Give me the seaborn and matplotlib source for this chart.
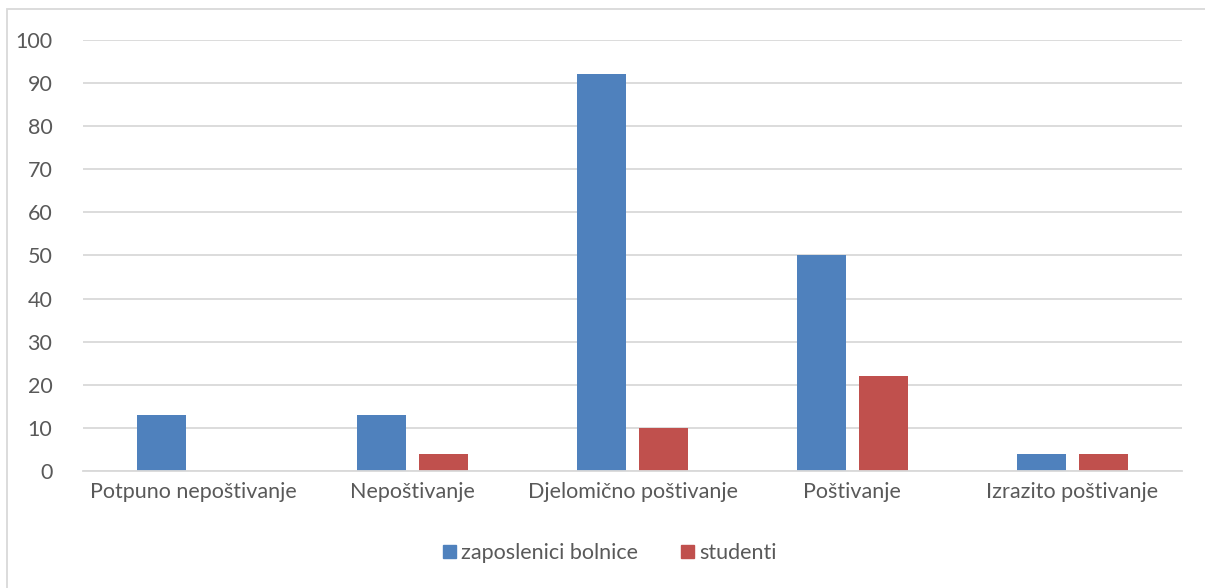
import matplotlib
matplotlib.use("Agg")
import matplotlib.pyplot as plt
import matplotlib.patches as mpatches
import pandas as pd
import seaborn as sns

# data
categories = ["Potpuno nepoštivanje", "Nepoštivanje", "Djelomično poštivanje",
              "Poštivanje", "Izrazito poštivanje"]
zaposlenici = [13, 13, 92, 50, 4]
studenti = [0, 4, 10, 22, 4]
series_names = ["zaposlenici bolnice", "studenti"]
colors = ["#4F81BD", "#C0504D"]

df = pd.DataFrame({
    "kategorija": categories * 2,
    "vrijednost": zaposlenici + studenti,
    "skupina": [series_names[0]] * len(categories) + [series_names[1]] * len(categories),
})

sns.set_theme(style="white")
plt.rcParams["font.family"] = ["Lato", "DejaVu Sans"]
text_color = "#595959"
grid_color = "#D9D9D9"

fig = plt.figure(figsize=(12.05, 5.88), dpi=100)
ax = fig.add_axes([83 / 1205, 1 - 471 / 588, (1182 - 83) / 1205, (471 - 40) / 588])

sns.barplot(data=df, x="kategorija", y="vrijednost", hue="skupina",
            palette=colors, width=0.564, gap=0.21, ax=ax, legend=False,
            saturation=1, linewidth=0, edgecolor="none")

ax.set_ylim(0, 100)
ax.set_xlim(-0.5, len(categories) - 0.5)
ax.set_yticks(range(0, 101, 10))
ax.grid(axis="y", color=grid_color, linewidth=1.3)
ax.set_axisbelow(True)
for side in ["top", "right", "left"]:
    ax.spines[side].set_visible(False)
ax.spines["bottom"].set_color(grid_color)
ax.spines["bottom"].set_linewidth(1.3)
ax.tick_params(axis="both", length=0, labelsize=15.5, colors=text_color)
ax.tick_params(axis="y", pad=22)
ax.tick_params(axis="x", pad=8)
ax.set_xlabel("")
ax.set_ylabel("")

handles = [mpatches.Patch(color=c, label=n) for c, n in zip(colors, series_names)]
fig.legend(handles=handles, loc="center", bbox_to_anchor=(610 / 1205, 1 - 553 / 588),
           ncol=2, frameon=False, fontsize=15.5, handlelength=0.6, handleheight=0.6,
           handletextpad=0.25, columnspacing=2.0, labelcolor=text_color)

# outer chart border
fig.patches.append(mpatches.Rectangle((7 / 1205, -0.1), 1.2, 1 - 9 / 588 + 0.1,
                                      transform=fig.transFigure, fill=False,
                                      edgecolor=grid_color, linewidth=1.3))

fig.savefig("out.png", dpi=100)
